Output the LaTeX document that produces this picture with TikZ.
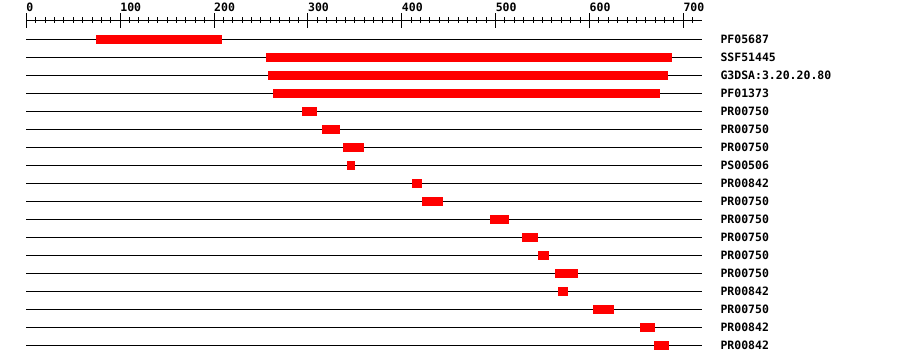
\documentclass[tikz,border=0pt]{standalone}
\usepackage{fontspec}
\newfontfamily\lblfont{DejaVu Sans Mono}
\begin{document}
\begin{tikzpicture}[x=1pt,y=-1pt,line width=1pt,
  bar/.style={fill=red,draw=none},
  track/.style={draw=black,line width=1pt},
  lbl/.style={anchor=base west,inner sep=0pt,font=\lblfont\bfseries\fontsize{11.5}{12}\selectfont},
  tick/.style={draw=black,line width=1pt}]
\useasboundingbox (0,0) rectangle (900,364);
% ruler
\coordinate (r0) at (26.3,20);
\coordinate (r1) at (701.7,20);
\draw[track] (r0) -- (r1);
\foreach \i in {0,...,71} {
  \pgfmathsetmacro\xx{26.3+9.386*\i}
  \draw[tick] (\xx,17) -- (\xx,23);
}
\foreach \i in {0,...,7} {
  \pgfmathsetmacro\xx{26.3+93.86*\i}
  \pgfmathtruncatemacro\vv{100*\i}
  \draw[tick] (\xx,13) -- (\xx,28);
  \node[lbl] (t\i) at (\xx-0.3,12) {\vv};
}
% rows
\foreach \r/\s/\e/\t in {
  1/96/221.7/PF05687,
  2/266/672/SSF51445,
  3/268/668/G3DSA:3.20.20.80,
  4/273/660/PF01373,
  5/302/317/PR00750,
  6/322/340/PR00750,
  7/343/364/PR00750,
  8/347/355/PS00506,
  9/412/422/PR00842,
  10/422/443/PR00750,
  11/490/509/PR00750,
  12/522/538/PR00750,
  13/538/549/PR00750,
  14/555/578/PR00750,
  15/558/568/PR00842,
  16/593/614/PR00750,
  17/640/655/PR00842,
  18/654/669/PR00842} {
  \pgfmathsetmacro\yy{39.3+18*(\r-1)}
  \coordinate (a\r) at (26.3,\yy);
  \coordinate (b\r) at (701.7,\yy);
  \draw[track] (a\r) -- (b\r);
  \fill[bar] (\s,\yy-4.5) rectangle (\e,\yy+4.5);
  \node[lbl] (l\r) at (720,\yy+4.2) {\t};
}
\end{tikzpicture}
\end{document}
